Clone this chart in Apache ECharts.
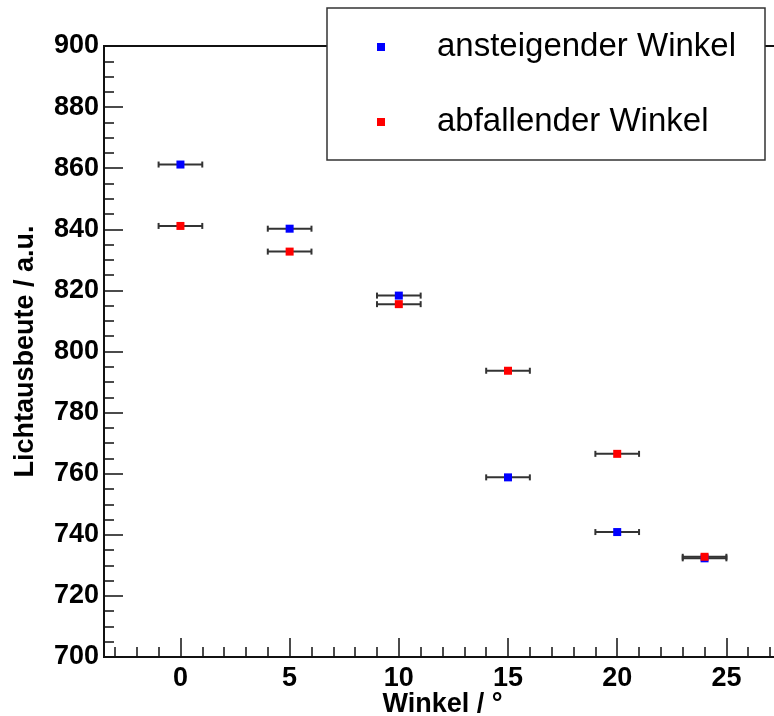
<!DOCTYPE html>
<html>
<head>
<meta charset="utf-8">
<script src="https://cdn.jsdelivr.net/npm/echarts@6/dist/echarts.min.js"></script>
<style>
html,body{margin:0;padding:0;background:#fff;}
#chart{width:774px;height:716px;}
</style>
</head>
<body>
<div id="chart"></div>
<script>
// ---- data ----
const angles = [0, 5, 10, 15, 20, 24];
const angleErr = [1, 1, 1, 1, 1, 1];
const risingY = [861.2, 840.2, 818.3, 758.8, 740.9, 732.3];
const fallingY = [841.1, 832.7, 815.5, 793.7, 766.5, 732.8];
const seriesNames = ['ansteigender Winkel', 'abfallender Winkel'];
const xMajorTicks = [0, 5, 10, 15, 20, 25];
const xMinorTicks = [-3,-2,-1,0,1,2,3,4,5,6,7,8,9,10,11,12,13,14,15,16,17,18,19,20,21,22,23,24,25,26,27];
const xTitle = 'Winkel / °';
const yTitle = 'Lichtausbeute / a.u.';

const FONT = "'Liberation Sans', Arial, Helvetica, sans-serif";
const chart = echarts.init(document.getElementById('chart'), null, {renderer: 'canvas'});

function pts(ys) { return angles.map((x, i) => [x, ys[i]]); }
function errPts(ys) { return angles.map((x, i) => [x, ys[i], angleErr[i]]); }

function renderErr(params, api) {
  const x = api.value(0), y = api.value(1), e = api.value(2);
  const p1 = api.coord([x - e, y]);
  const p2 = api.coord([x + e, y]);
  const cap = 3;
  const st = {stroke: '#333', lineWidth: 2};
  return {
    type: 'group',
    children: [
      {type: 'line', shape: {x1: p1[0], y1: p1[1], x2: p2[0], y2: p2[1]}, style: st},
      {type: 'line', shape: {x1: p1[0], y1: p1[1] - cap, x2: p1[0], y2: p1[1] + cap}, style: st},
      {type: 'line', shape: {x1: p2[0], y1: p2[1] - cap, x2: p2[0], y2: p2[1] + cap}, style: st}
    ]
  };
}

const option = {
  animation: false,
  backgroundColor: '#fff',
  grid: {
    left: 104, top: 46, bottom: 59, right: -7,
    outerBoundsMode: 'none',
    containLabel: false,
    show: true, borderColor: '#111', borderWidth: 2, backgroundColor: 'transparent'
  },
  xAxis: [
    {
      type: 'value', min: -3.5, max: 27.5,
      position: 'bottom',
      axisLine: {show: true, onZero: false, lineStyle: {color: '#111', width: 2}},
      axisTick: {show: true, inside: true, length: 19, customValues: xMajorTicks, lineStyle: {color: '#111', width: 1.5}},
      axisLabel: {show: true, customValues: xMajorTicks, margin: 8, fontFamily: FONT, fontWeight: 'bold', fontSize: 27, color: '#000'},
      splitLine: {show: false},
      name: xTitle, nameLocation: 'middle', nameGap: 34, nameMoveOverlap: false,
      nameTextStyle: {fontFamily: FONT, fontWeight: 'bold', fontSize: 27, color: '#000'}
    },
    {
      type: 'value', min: -3.5, max: 27.5,
      position: 'bottom',
      axisLine: {show: false, onZero: false},
      axisTick: {show: true, inside: true, length: 10, customValues: xMinorTicks, lineStyle: {color: '#111', width: 1.5}},
      axisLabel: {show: false},
      splitLine: {show: false}
    }
  ],
  yAxis: {
    type: 'value', min: 700, max: 900, interval: 20,
    axisLine: {show: true, onZero: false, lineStyle: {color: '#111', width: 2}},
    axisTick: {show: true, inside: true, length: 19, lineStyle: {color: '#111', width: 1.5}},
    minorTick: {show: true, splitNumber: 4, length: 10, lineStyle: {color: '#111', width: 1.5}},
    axisLabel: {margin: 5, fontFamily: FONT, fontWeight: 'bold', fontSize: 27, color: '#000'},
    splitLine: {show: false},
    name: yTitle, nameLocation: 'middle', nameGap: 65, nameRotate: 90, nameMoveOverlap: false,
    nameTextStyle: {fontFamily: FONT, fontWeight: 'bold', fontSize: 27, color: '#000'}
  },
  legend: {
    orient: 'vertical',
    left: 377, top: 27,
    padding: 0,
    itemGap: 35,
    itemWidth: 8, itemHeight: 8,
    icon: 'rect',
    data: seriesNames,
    z: 100,
    textStyle: {fontFamily: FONT, fontSize: 33, color: '#000', lineHeight: 40, padding: [0, 0, 0, 47]}
  },
  graphic: [
    {
      type: 'rect', z: 50,
      shape: {x: 327, y: 8, width: 438, height: 152},
      style: {fill: '#fff', stroke: '#333', lineWidth: 1.5}
    }
  ],
  series: [
    {
      name: 'err-rising', type: 'custom', renderItem: renderErr,
      data: errPts(risingY), encode: {x: 0, y: 1}, z: 1, silent: true
    },
    {
      name: 'err-falling', type: 'custom', renderItem: renderErr,
      data: errPts(fallingY), encode: {x: 0, y: 1}, z: 1, silent: true
    },
    {
      name: seriesNames[0], type: 'scatter', symbol: 'rect', symbolSize: 8,
      itemStyle: {color: '#0000ff', opacity: 1}, data: pts(risingY), z: 5
    },
    {
      name: seriesNames[1], type: 'scatter', symbol: 'rect', symbolSize: 8,
      itemStyle: {color: '#ff0000', opacity: 1}, data: pts(fallingY), z: 6
    }
  ]
};
chart.setOption(option);
</script>
</body>
</html>
